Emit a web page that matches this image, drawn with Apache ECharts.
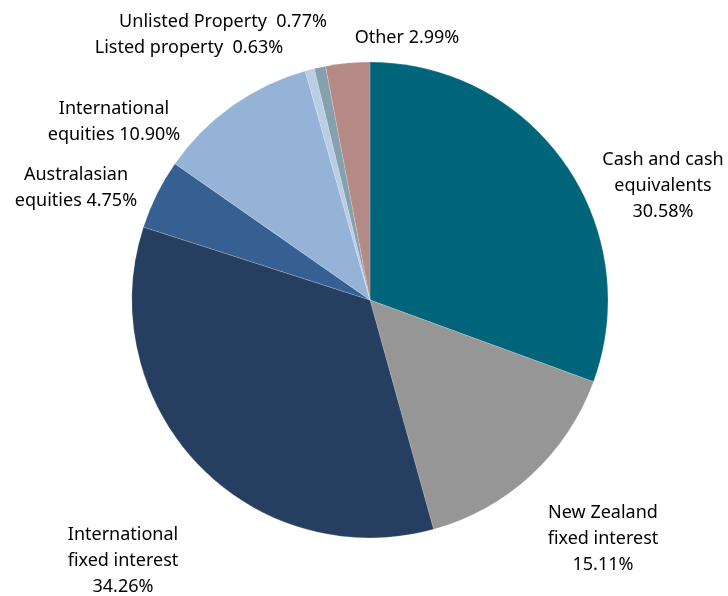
<!DOCTYPE html>
<html>
<head>
<meta charset="utf-8">
<script src="https://cdn.jsdelivr.net/npm/echarts@6/dist/echarts.min.js"></script>
<style>
  html, body { margin: 0; padding: 0; background: #fff; }
  #chart { width: 728px; height: 596px; }
</style>
</head>
<body>
<div id="chart"></div>
<script>
// slices, clockwise from 12 o'clock
const names = [
  'Cash and cash\nequivalents\n30.58%',
  'New Zealand\nfixed interest\n15.11%',
  'International\nfixed interest\n34.26%',
  'Australasian\nequities 4.75%',
  'International\nequities 10.90%',
  'Listed property  0.63%',
  'Unlisted Property  0.77%',
  'Other 2.99%'
]
const values = [30.58, 15.11, 34.26, 4.75, 10.90, 0.63, 0.77, 2.99]
const colors = ['#00657B', '#969696', '#263F60', '#376092', '#95B3D7', '#B9CDE5', '#85A1AD', '#B58985']

// label anchor points (centre of each text block)
const labelPos = [
  [663, 186], [603, 539], [123, 561], [76, 188],
  [114, 122], [189, 48], [223, 22], [407, 38]
]

const chart = echarts.init(document.getElementById('chart'))
const option = {
  animation: false,
  series: [{
    type: 'pie',
    center: [370, 300],
    radius: 238,
    startAngle: 90,
    clockwise: true,
    data: values.map((v, i) => {
      return {
        name: names[i],
        value: v,
        itemStyle: { color: colors[i] }
      }
    }),
    itemStyle: {
      borderColor: 'rgba(255,255,255,0.35)',
      borderWidth: 0.5
    },
    label: {
      show: true,
      formatter: '{b}',
      color: '#000',
      fontFamily: 'Noto Sans',
      fontSize: 18,
      lineHeight: 26,
      align: 'center',
      overflow: 'none',
      alignTo: 'none'
    },
    labelLine: { show: false },
    labelLayout: function (params) {
      const p = labelPos[params.dataIndex]
      return {
        x: p[0],
        y: p[1],
        align: 'center',
        verticalAlign: 'middle',
        width: 300
      }
    }
  }]
}
chart.setOption(option)
</script>
</body>
</html>
